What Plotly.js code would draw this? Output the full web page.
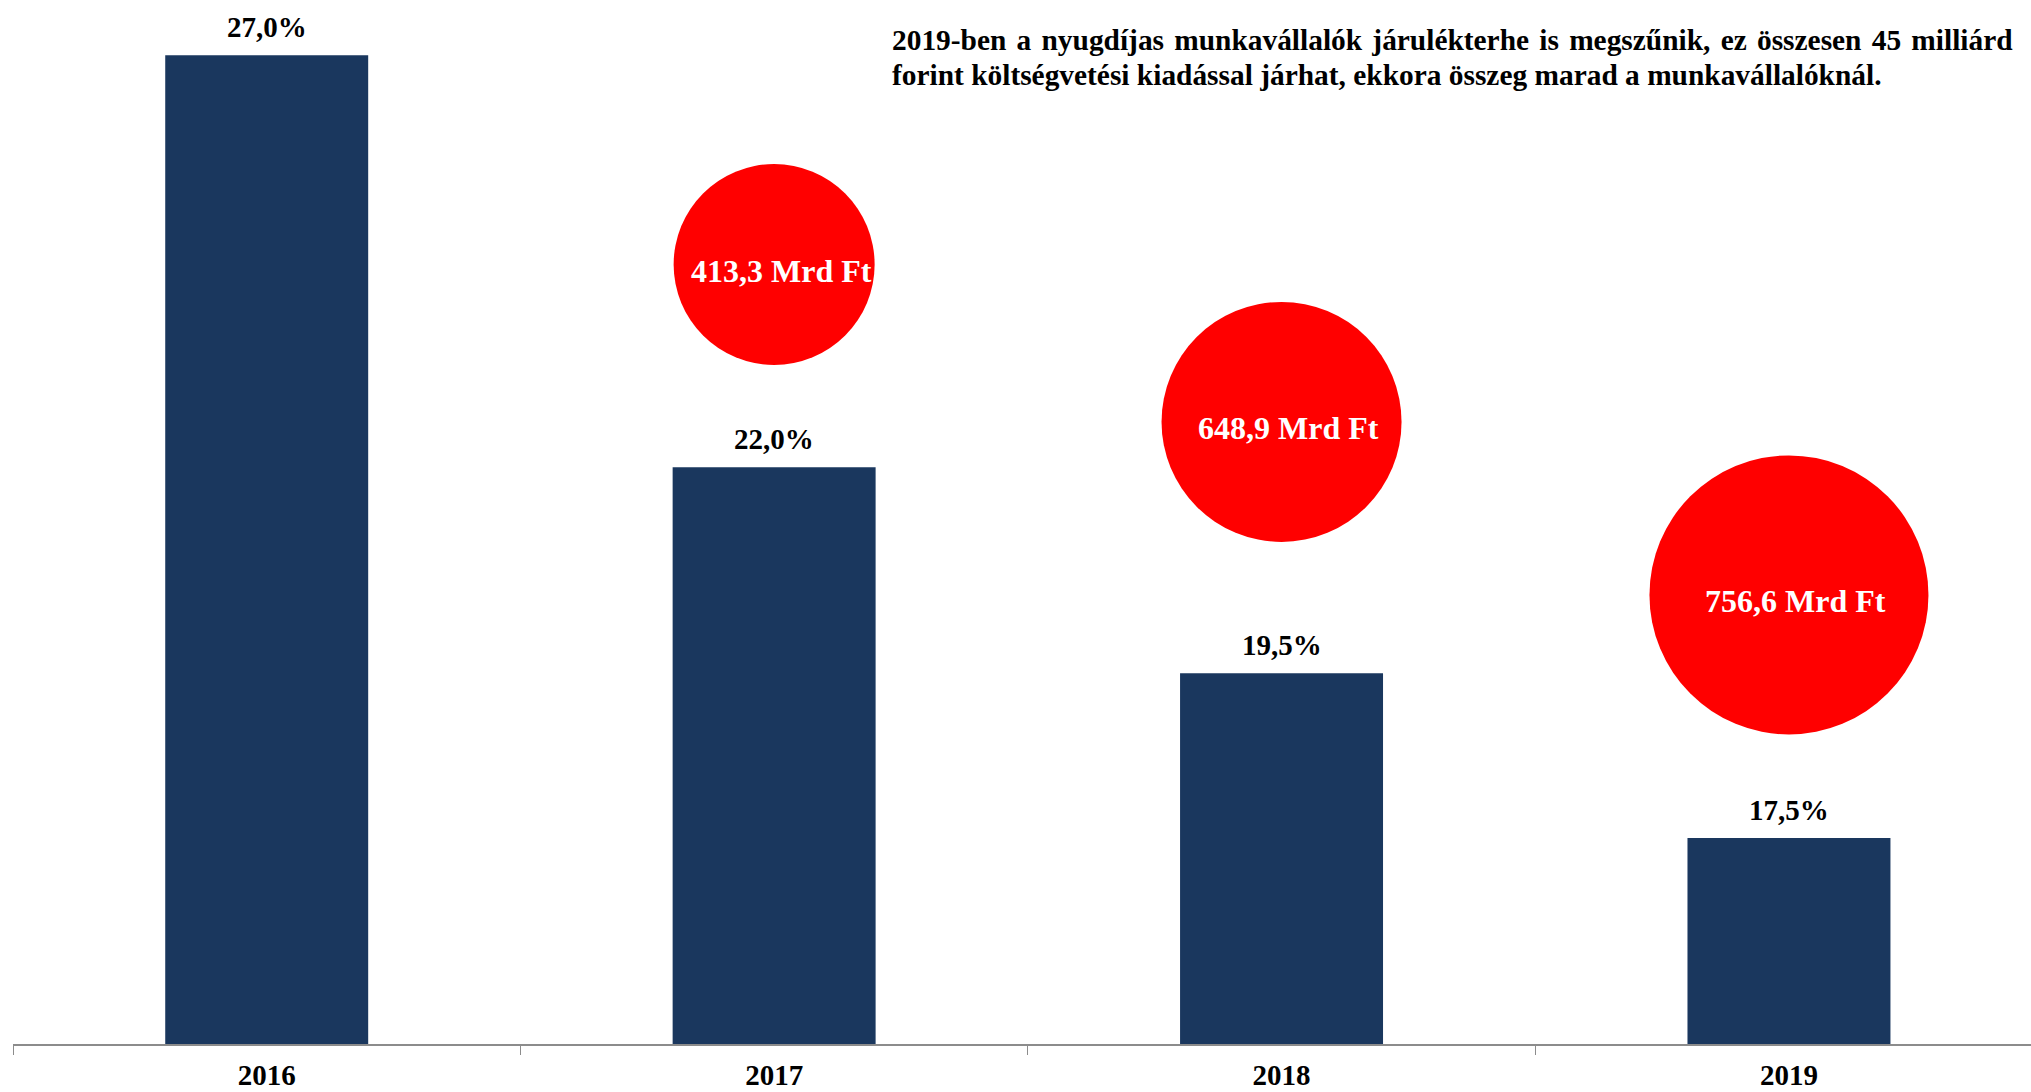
<!DOCTYPE html>
<html>
<head>
<meta charset="utf-8">
<script src="https://cdn.plot.ly/plotly-3.0.1.min.js"></script>
<style>html,body{margin:0;padding:0;background:#fff;}#chart{width:2031px;height:1092px;}</style>
</head>
<body>
<div id="chart"></div>
<script>
// ---- data ----
const years = ['2016', '2017', '2018', '2019'];
const contributionRate = [27.0, 22.0, 19.5, 17.5];          // %
const bubbleYears = ['2017', '2018', '2019'];
const savingsBillionFt = [413.3, 648.9, 756.6];              // Mrd Ft
const noteLine1 = '2019-ben a nyugdíjas munkavállalók járulékterhe is megszűnik, ez összesen 45 milliárd';
const noteLine2 = 'forint költségvetési kiadással járhat, ekkora összeg marad a munkavállalóknál.';

// ---- styling / layout constants ----
const FONT = '"Liberation Serif", "Times New Roman", serif';
const BAR_COLOR = '#1A375E';
const BUBBLE_COLOR = '#FF0000';
const BUBBLE_Y = [24.46, 22.55, 20.45];        // vertical placement of bubbles (axis units)
const BUBBLE_DIAMETERS = [201, 240, 279];       // px

const fmt1 = v => v.toFixed(1).replace('.', ',');
const catIndex = yr => years.indexOf(yr);

const bars = {
  type: 'bar', x: years, y: contributionRate, width: 0.4,
  marker: {color: BAR_COLOR, line: {width: 0}},
  hoverinfo: 'skip', cliponaxis: false
};
const bubbles = {
  type: 'scatter', mode: 'markers', x: bubbleYears, y: BUBBLE_Y,
  marker: {color: BUBBLE_COLOR, size: BUBBLE_DIAMETERS, line: {width: 0}, opacity: 1},
  hoverinfo: 'skip', cliponaxis: false
};

const annotations = [];
years.forEach((yr, i) => {
  annotations.push({
    x: catIndex(yr), y: contributionRate[i], xref: 'x', yref: 'y',
    text: fmt1(contributionRate[i]) + '%', showarrow: false,
    xanchor: 'center', yanchor: 'bottom', yshift: 10,
    font: {family: FONT, size: 29, color: '#000', weight: 'bold'}
  });
});
bubbleYears.forEach((yr, i) => {
  annotations.push({
    x: catIndex(yr), y: BUBBLE_Y[i], xref: 'x', yref: 'y',
    text: fmt1(savingsBillionFt[i]) + ' Mrd Ft', showarrow: false,
    xanchor: 'center', yanchor: 'middle', xshift: 7, yshift: -6,
    font: {family: FONT, size: 32, color: '#fff', weight: 'bold'}
  });
});
const plotL = 13, plotW = 2031 - 13, plotH = 1044;
annotations.push({
  xref: 'paper', yref: 'paper', x: (890 - plotL) / plotW, y: (plotH - 40) / plotH,
  xanchor: 'left', yanchor: 'middle', showarrow: false, align: 'left',
  text: '<span style="word-spacing:2.9px">' + noteLine1 + '</span>',
  font: {family: FONT, size: 29.4, color: '#000', weight: 'bold'}
});
annotations.push({
  xref: 'paper', yref: 'paper', x: (890 - plotL) / plotW, y: (plotH - 75) / plotH,
  xanchor: 'left', yanchor: 'middle', showarrow: false, align: 'left',
  text: noteLine2,
  font: {family: FONT, size: 29.4, color: '#000', weight: 'bold'}
});

const layout = {
  width: 2031, height: 1092,
  margin: {l: 13, r: 0, t: 0, b: 48, pad: 0},
  paper_bgcolor: '#fff', plot_bgcolor: '#fff',
  showlegend: false, separators: ', ',
  xaxis: {
    type: 'category', range: [-0.5, 3.477], fixedrange: true,
    showgrid: false, zeroline: false,
    showline: true, linecolor: '#8C8C8C', linewidth: 2,
    ticks: 'outside', tickson: 'boundaries', ticklen: 9, tickcolor: '#8C8C8C', tickwidth: 1,
    ticklabelstandoff: 4,
    tickfont: {family: FONT, size: 29, color: '#000', weight: 'bold'}
  },
  yaxis: {
    range: [15, 27.67], fixedrange: true,
    showgrid: false, zeroline: false, showline: false, showticklabels: false, ticks: ''
  },
  annotations: annotations
};

Plotly.newPlot('chart', [bars, bubbles], layout, {displayModeBar: false, staticPlot: true});
</script>
</body>
</html>
